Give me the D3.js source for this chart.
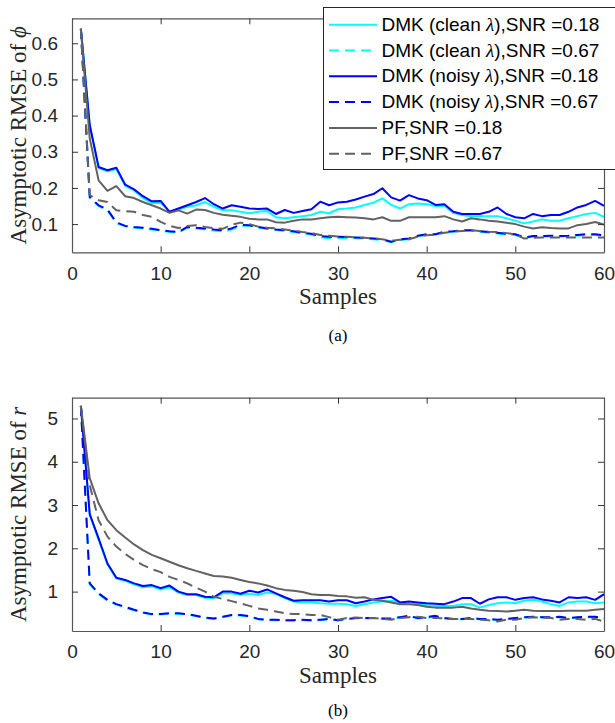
<!DOCTYPE html>
<html>
<head>
<meta charset="utf-8">
<script src="https://cdn.jsdelivr.net/npm/d3@7"></script>
<style>
  body { margin: 0; background: #fff; }
  .tick text { font-family: "Liberation Sans", Arial, sans-serif; font-size: 19px; fill: #262626; }
  .axis-label { font-family: "Liberation Serif", "Times New Roman", serif; font-size: 23px; fill: #262626; }
  .caption { font-family: "Liberation Serif", "Times New Roman", serif; font-size: 17px; fill: #000; }
  .legend text { font-family: "Liberation Sans", Arial, sans-serif; font-size: 19px; fill: #000; }
</style>
</head>
<body>
<div id="chart-area"></div>
<script>

var width = 615,
    height = 723;

// Sample index 1..60
var samples = d3.range(1, 61);

// ---- Panel (a): RMSE of phi ----
var phiCleanLow = [0.64, 0.372, 0.255, 0.246, 0.252, 0.206, 0.193, 0.172, 0.158, 0.158,
    0.134, 0.14, 0.148, 0.152, 0.161, 0.148, 0.138, 0.138, 0.134, 0.13,
    0.134, 0.136, 0.119, 0.116, 0.119, 0.122, 0.125, 0.134, 0.13, 0.141,
    0.143, 0.146, 0.153, 0.159, 0.171, 0.153, 0.143, 0.155, 0.157, 0.155,
    0.15, 0.15, 0.131, 0.125, 0.122, 0.122, 0.122, 0.122, 0.116, 0.109,
    0.102, 0.107, 0.113, 0.109, 0.109, 0.116, 0.122, 0.128, 0.131, 0.12];
var phiCleanHigh = [0.64, 0.172, 0.15, 0.138, 0.103, 0.094, 0.09, 0.088, 0.085, 0.082,
    0.078, 0.076, 0.09, 0.088, 0.085, 0.082, 0.08, 0.085, 0.095, 0.096,
    0.09, 0.087, 0.084, 0.08, 0.078, 0.074, 0.071, 0.064, 0.061, 0.062,
    0.06, 0.061, 0.06, 0.058, 0.056, 0.05, 0.056, 0.058, 0.066, 0.07,
    0.071, 0.077, 0.079, 0.081, 0.082, 0.079, 0.076, 0.074, 0.071, 0.07,
    0.062, 0.065, 0.065, 0.066, 0.066, 0.067, 0.068, 0.07, 0.07, 0.067];
var phiNoisyLow = [0.64, 0.374, 0.258, 0.249, 0.256, 0.209, 0.196, 0.177, 0.163, 0.164,
    0.134, 0.143, 0.152, 0.161, 0.172, 0.155, 0.143, 0.152, 0.148, 0.143,
    0.142, 0.143, 0.128, 0.139, 0.131, 0.136, 0.141, 0.162, 0.152, 0.16,
    0.162, 0.168, 0.176, 0.183, 0.199, 0.174, 0.165, 0.18, 0.171, 0.166,
    0.153, 0.155, 0.134, 0.128, 0.128, 0.128, 0.134, 0.146, 0.128, 0.119,
    0.116, 0.128, 0.122, 0.125, 0.125, 0.134, 0.146, 0.153, 0.164, 0.15];
var phiNoisyHigh = [0.64, 0.175, 0.152, 0.14, 0.105, 0.095, 0.092, 0.09, 0.087, 0.083,
    0.08, 0.078, 0.092, 0.09, 0.088, 0.085, 0.083, 0.088, 0.098, 0.097,
    0.092, 0.088, 0.085, 0.083, 0.08, 0.076, 0.073, 0.067, 0.065, 0.065,
    0.064, 0.063, 0.062, 0.06, 0.058, 0.051, 0.058, 0.06, 0.068, 0.072,
    0.072, 0.079, 0.08, 0.083, 0.083, 0.08, 0.078, 0.076, 0.073, 0.072,
    0.063, 0.067, 0.067, 0.068, 0.067, 0.068, 0.07, 0.072, 0.072, 0.069];
var phiPfLow = [0.64, 0.337, 0.221, 0.192, 0.205, 0.177, 0.172, 0.161, 0.152, 0.143,
    0.131, 0.138, 0.129, 0.14, 0.139, 0.131, 0.126, 0.123, 0.12, 0.115,
    0.113, 0.113, 0.105, 0.104, 0.109, 0.113, 0.113, 0.116, 0.119, 0.12,
    0.119, 0.118, 0.116, 0.113, 0.119, 0.109, 0.109, 0.119, 0.119, 0.119,
    0.119, 0.122, 0.113, 0.107, 0.116, 0.113, 0.109, 0.107, 0.104, 0.1,
    0.093, 0.088, 0.091, 0.089, 0.088, 0.088, 0.097, 0.1, 0.106, 0.099];
var phiPfHigh = [0.64, 0.18, 0.166, 0.161, 0.138, 0.136, 0.134, 0.125, 0.12, 0.106,
    0.095, 0.089, 0.095, 0.097, 0.092, 0.089, 0.087, 0.098, 0.104, 0.1,
    0.093, 0.09, 0.088, 0.085, 0.082, 0.078, 0.075, 0.07, 0.068, 0.066,
    0.065, 0.063, 0.062, 0.06, 0.058, 0.054, 0.057, 0.058, 0.065, 0.069,
    0.071, 0.076, 0.079, 0.081, 0.083, 0.081, 0.079, 0.078, 0.075, 0.072,
    0.06, 0.062, 0.063, 0.063, 0.063, 0.063, 0.063, 0.063, 0.063, 0.063];
var phiTicks = [0.1, 0.2, 0.3, 0.4, 0.5, 0.6];

// ---- Panel (b): RMSE of r ----
var rCleanLow = [5.29, 2.77, 2.2, 1.63, 1.3, 1.25, 1.17, 1.1, 1.12, 1.05,
    1.1, 0.98, 0.92, 0.92, 0.86, 0.85, 0.96, 0.96, 0.92, 0.95,
    0.92, 0.98, 0.95, 0.85, 0.77, 0.75, 0.75, 0.73, 0.72, 0.72,
    0.71, 0.67, 0.71, 0.75, 0.77, 0.79, 0.75, 0.72, 0.71, 0.69,
    0.67, 0.67, 0.67, 0.71, 0.71, 0.63, 0.69, 0.73, 0.75, 0.73,
    0.79, 0.81, 0.77, 0.71, 0.67, 0.75, 0.77, 0.77, 0.73, 0.75];
var rCleanHigh = [5.29, 1.17, 0.94, 0.79, 0.7, 0.63, 0.57, 0.51, 0.47, 0.47,
    0.49, 0.49, 0.47, 0.43, 0.39, 0.37, 0.41, 0.45, 0.45, 0.42,
    0.36, 0.34, 0.34, 0.33, 0.33, 0.34, 0.33, 0.34, 0.36, 0.33,
    0.36, 0.38, 0.38, 0.38, 0.37, 0.37, 0.4, 0.43, 0.38, 0.4,
    0.42, 0.38, 0.36, 0.36, 0.38, 0.36, 0.36, 0.34, 0.36, 0.38,
    0.4, 0.41, 0.4, 0.4, 0.41, 0.38, 0.4, 0.41, 0.41, 0.38];
var rNoisyLow = [5.29, 2.79, 2.23, 1.65, 1.32, 1.27, 1.19, 1.13, 1.15, 1.08,
    1.14, 1.0, 0.94, 0.94, 0.88, 0.87, 1.0, 1.0, 0.95, 1.02,
    0.98, 1.05, 0.96, 0.87, 0.79, 0.8, 0.8, 0.8, 0.77, 0.8,
    0.8, 0.73, 0.77, 0.82, 0.85, 0.88, 0.75, 0.77, 0.75, 0.73,
    0.72, 0.71, 0.77, 0.85, 0.85, 0.72, 0.82, 0.87, 0.87, 0.81,
    0.85, 0.87, 0.82, 0.79, 0.75, 0.87, 0.85, 0.87, 0.81, 0.94];
var rNoisyHigh = [5.29, 1.19, 0.96, 0.81, 0.71, 0.65, 0.58, 0.52, 0.48, 0.48,
    0.5, 0.5, 0.48, 0.44, 0.4, 0.38, 0.42, 0.46, 0.46, 0.43,
    0.37, 0.35, 0.35, 0.34, 0.34, 0.35, 0.34, 0.35, 0.37, 0.34,
    0.37, 0.39, 0.39, 0.39, 0.38, 0.38, 0.41, 0.44, 0.39, 0.41,
    0.44, 0.39, 0.37, 0.37, 0.39, 0.37, 0.37, 0.35, 0.37, 0.39,
    0.41, 0.42, 0.41, 0.41, 0.42, 0.39, 0.41, 0.42, 0.42, 0.39];
var rPfLow = [5.29, 3.62, 3.04, 2.65, 2.42, 2.25, 2.09, 1.96, 1.85, 1.77,
    1.69, 1.61, 1.54, 1.48, 1.42, 1.36, 1.35, 1.32, 1.27, 1.22,
    1.19, 1.14, 1.08, 1.04, 1.02, 0.99, 0.94, 0.92, 0.92, 0.9,
    0.89, 0.86, 0.87, 0.81, 0.79, 0.75, 0.71, 0.71, 0.69, 0.65,
    0.63, 0.63, 0.63, 0.65, 0.61, 0.58, 0.56, 0.55, 0.54, 0.56,
    0.58, 0.56, 0.55, 0.55, 0.55, 0.56, 0.56, 0.56, 0.58, 0.6];
var rPfHigh = [5.29, 3.46, 2.65, 2.27, 2.04, 1.87, 1.73, 1.61, 1.52, 1.45,
    1.34, 1.27, 1.19, 1.09, 1.0, 0.88, 0.83, 0.78, 0.73, 0.67,
    0.61, 0.58, 0.54, 0.5, 0.48, 0.48, 0.46, 0.46, 0.41, 0.35,
    0.39, 0.4, 0.39, 0.39, 0.37, 0.35, 0.39, 0.41, 0.42, 0.39,
    0.39, 0.38, 0.37, 0.37, 0.37, 0.35, 0.34, 0.31, 0.35, 0.35,
    0.39, 0.41, 0.4, 0.39, 0.35, 0.37, 0.37, 0.35, 0.37, 0.31];
var rTicks = [1, 2, 3, 4, 5];

var xTicks = [0, 10, 20, 30, 40, 50, 60];

// Series styles, in MATLAB plotting order (legend order)
var seriesNames = ["DMK (clean λ),SNR =0.18", "DMK (clean λ),SNR =0.67",
    "DMK (noisy λ),SNR =0.18", "DMK (noisy λ),SNR =0.67",
    "PF,SNR =0.18", "PF,SNR =0.67"];
var seriesColors = ["#00ffff", "#00ffff", "#0000ff", "#0000ff", "#626262", "#626262"];
var seriesDashed = [false, true, false, true, false, true];

var svg = d3.select("#chart-area").append("svg")
    .attr("width", width)
    .attr("height", height);

function drawPanel(opt) {
    var x = d3.scaleLinear().domain([0, 60]).range([72, 604]);
    var y = d3.scaleLinear().domain(opt.yDomain).range([opt.bottom, opt.top]);

    var g = svg.append("g");

    g.append("clipPath").attr("id", opt.id + "-clip")
        .append("rect")
        .attr("x", 72).attr("y", opt.top)
        .attr("width", 532).attr("height", opt.bottom - opt.top);

    // Lines
    var line = d3.line()
        .x(function(d) { return x(d.s); })
        .y(function(d) { return y(d.v); });

    opt.series.forEach(function(vals, i) {
        var pts = samples.map(function(s, j) { return {s: s, v: vals[j]}; });
        g.append("path")
            .datum(pts)
            .attr("clip-path", "url(#" + opt.id + "-clip)")
            .attr("fill", "none")
            .attr("stroke", seriesColors[i])
            .attr("stroke-width", 2)
            .attr("stroke-linejoin", "round")
            .attr("stroke-dasharray", seriesDashed[i] ? "10,6" : null)
            .attr("d", line);
    });

    // Axes, ticks pointing inward on all four sides (MATLAB box on)
    var tl = 6;
    var axisStyle = function(sel) {
        sel.select(".domain").attr("stroke", "#555").attr("stroke-width", 1.2);
        sel.selectAll(".tick line").attr("stroke", "#333");
    };
    g.append("g")
        .attr("transform", "translate(0," + opt.bottom + ")")
        .call(d3.axisBottom(x).tickValues(xTicks).tickSizeInner(-tl).tickSizeOuter(0).tickPadding(14))
        .call(axisStyle);
    g.append("g")
        .attr("transform", "translate(0," + opt.top + ")")
        .call(d3.axisTop(x).tickValues(xTicks).tickSizeInner(-tl).tickSizeOuter(0).tickFormat(""))
        .call(axisStyle);
    g.append("g")
        .attr("transform", "translate(72,0)")
        .call(d3.axisLeft(y).tickValues(opt.yTicks).tickSizeInner(-tl).tickSizeOuter(0).tickPadding(14)
            .tickFormat(d3.format("~g")))
        .call(axisStyle);
    g.append("g")
        .attr("transform", "translate(604,0)")
        .call(d3.axisRight(y).tickValues(opt.yTicks).tickSizeInner(-tl).tickSizeOuter(0).tickFormat(""))
        .call(axisStyle);

    // Axis labels
    g.append("text")
        .attr("class", "axis-label")
        .attr("x", 338).attr("y", opt.bottom + 52)
        .attr("text-anchor", "middle")
        .text("Samples");

    var yl = g.append("text")
        .attr("class", "axis-label")
        .attr("transform", "translate(26," + ((opt.top + opt.bottom) / 2) + ") rotate(-90)")
        .attr("text-anchor", "middle");
    yl.append("tspan").text("Asymptotic RMSE of ");
    yl.append("tspan").attr("font-style", "italic").text(opt.sym);

    g.append("text")
        .attr("class", "caption")
        .attr("x", 338).attr("y", opt.captionY)
        .attr("text-anchor", "middle")
        .text(opt.caption);

    return g;
}

drawPanel({
    id: "phi", top: 18.3, bottom: 252.3, yDomain: [0.022, 0.669], yTicks: phiTicks,
    sym: "ϕ", caption: "(a)", captionY: 341,
    series: [phiCleanLow, phiCleanHigh, phiNoisyLow, phiNoisyHigh, phiPfLow, phiPfHigh]
});

drawPanel({
    id: "r", top: 397.7, bottom: 631, yDomain: [0.09, 5.48], yTicks: rTicks,
    sym: "r", caption: "(b)", captionY: 716,
    series: [rCleanLow, rCleanHigh, rNoisyLow, rNoisyHigh, rPfLow, rPfHigh]
});

// Legend (top panel, runs off the right edge like the original)
var legend = svg.append("g").attr("class", "legend");
legend.append("rect")
    .attr("x", 323.5).attr("y", 7.5)
    .attr("width", 300).attr("height", 162)
    .attr("fill", "#fff")
    .attr("stroke", "#262626")
    .attr("stroke-width", 1);

seriesNames.forEach(function(name, i) {
    var by = 30.7 + i * 25.8;
    legend.append("line")
        .attr("x1", 329).attr("x2", 377)
        .attr("y1", by - 6).attr("y2", by - 6)
        .attr("stroke", seriesColors[i])
        .attr("stroke-width", 2)
        .attr("stroke-dasharray", seriesDashed[i] ? "10,6" : null);
    var t = legend.append("text").attr("x", 381.5).attr("y", by);
    var parts = name.split("λ");
    t.append("tspan").text(parts[0]);
    if (parts.length > 1) {
        t.append("tspan")
            .attr("font-family", "'Liberation Serif', serif")
            .attr("font-style", "italic")
            .text("λ");
        t.append("tspan").text(parts[1]);
    }
});

</script>
</body>
</html>
